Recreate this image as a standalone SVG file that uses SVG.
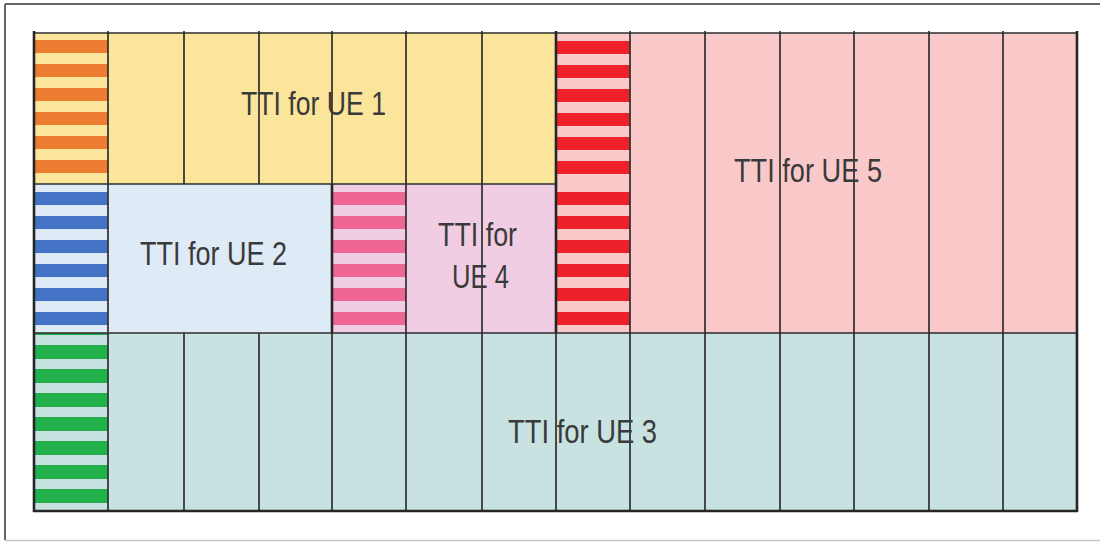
<svg xmlns="http://www.w3.org/2000/svg" width="1100" height="542" viewBox="0 0 1100 542">
<style>
.lbl{font-family:"Liberation Sans",Arial,sans-serif;font-size:33px;fill:#3a3a3a;text-anchor:start}
.ln{stroke:#2e2e2e;stroke-width:1.7;fill:none}
.thk{stroke:#262626;stroke-width:2.6;fill:none}
</style>
<defs>
<pattern id="pOrange" patternUnits="userSpaceOnUse" x="0" y="33" width="20" height="24"><rect width="20" height="24" fill="#FAE59A"/><rect y="7" width="20" height="13" fill="#ED7D31"/></pattern>
<pattern id="pBlue" patternUnits="userSpaceOnUse" x="0" y="185" width="20" height="24"><rect width="20" height="24" fill="#DEEAF6"/><rect y="7" width="20" height="13" fill="#4472C4"/></pattern>
<pattern id="pPink" patternUnits="userSpaceOnUse" x="0" y="185" width="20" height="24"><rect width="20" height="24" fill="#F0CDE3"/><rect y="7" width="20" height="13" fill="#EF6694"/></pattern>
<pattern id="pRedA" patternUnits="userSpaceOnUse" x="0" y="33" width="20" height="24"><rect width="20" height="24" fill="#F9C9C9"/><rect y="8" width="20" height="13" fill="#EE2029"/></pattern>
<pattern id="pRedB" patternUnits="userSpaceOnUse" x="0" y="185" width="20" height="24"><rect width="20" height="24" fill="#F9C9C9"/><rect y="7" width="20" height="13" fill="#EE2029"/></pattern>
<pattern id="pGreen" patternUnits="userSpaceOnUse" x="0" y="345" width="20" height="24"><rect width="20" height="24" fill="#C8E2E2"/><rect y="0" width="20" height="14" fill="#21B04B"/></pattern>
</defs>
<rect width="1100" height="542" fill="#ffffff"/>
<g id="frame">
<line x1="5" y1="4" x2="1100" y2="4" stroke="#666" stroke-width="2"/>
<line x1="5" y1="4" x2="5" y2="540" stroke="#666" stroke-width="2"/>
<line x1="5" y1="540.5" x2="1100" y2="540.5" stroke="#c4c4c4" stroke-width="1.5"/>
</g>
<g id="ue1">
<rect x="34" y="33" width="74" height="151" fill="url(#pOrange)"/>
<rect x="108" y="33" width="448" height="151" fill="#FAE59A"/>
</g>
<g id="ue2">
<rect x="34" y="184" width="74" height="149" fill="url(#pBlue)"/>
<rect x="108" y="184" width="224" height="149" fill="#DEEAF6"/>
</g>
<g id="ue4">
<rect x="332" y="184" width="74" height="149" fill="url(#pPink)"/>
<rect x="406" y="184" width="150" height="149" fill="#F0CDE3"/>
</g>
<g id="ue5">
<rect x="556" y="33" width="74" height="151" fill="url(#pRedA)"/>
<rect x="556" y="184" width="74" height="149" fill="url(#pRedB)"/>
<rect x="630" y="33" width="447" height="300" fill="#F9C9C9"/>
</g>
<g id="ue3">
<rect x="34" y="333" width="74" height="178" fill="url(#pGreen)"/>
<rect x="108" y="333" width="969" height="178" fill="#C8E2E2"/>
</g>
<g id="connectors">
<path class="ln" d="M34 33H1077M34 184H556M34 333H1077"/>
<path class="ln" d="M108 31V511M184 31V184M184 333V511M259 31V184M259 333V511M332 31V184M332 333V511M406 31V511M482 31V511M556 333V511M630 31V511M705 31V511M780 31V511M854 31V511M929 31V511M1003 31V511"/>
<path class="thk" d="M34 31V512M332 184V333M556 31V333M1077 31V512M33 511H1078"/>
</g>
<g id="labels">
<text class="lbl" x="241" y="115" textLength="145" lengthAdjust="spacingAndGlyphs">TTI for UE 1</text>
<text class="lbl" x="734" y="182" textLength="148" lengthAdjust="spacingAndGlyphs">TTI for UE 5</text>
<text class="lbl" x="140" y="265" textLength="147" lengthAdjust="spacingAndGlyphs">TTI for UE 2</text>
<text class="lbl" x="438" y="246" textLength="79" lengthAdjust="spacingAndGlyphs">TTI for</text>
<text class="lbl" x="452" y="288" textLength="57" lengthAdjust="spacingAndGlyphs">UE 4</text>
<text class="lbl" x="508" y="443" textLength="149" lengthAdjust="spacingAndGlyphs">TTI for UE 3</text>
</g>
</svg>
